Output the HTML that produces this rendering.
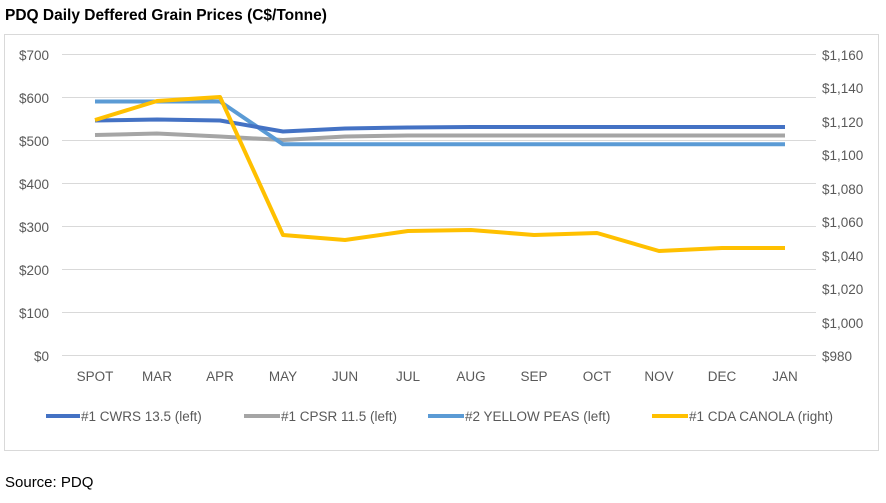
<!DOCTYPE html>
<html><head><meta charset="utf-8"><style>
body{margin:0;background:#fff;width:886px;height:498px;overflow:hidden;font-family:"Liberation Sans",sans-serif}
</style></head><body>
<svg width="886" height="498" xmlns="http://www.w3.org/2000/svg" font-family="Liberation Sans, sans-serif">
<text x="5" y="20" font-size="15.5" font-weight="bold" fill="#000">PDQ Daily Deffered Grain Prices (C$/Tonne)</text>
<rect x="4.5" y="34.5" width="874" height="416" fill="#fff" stroke="#d9d9d9"/>
<g stroke="#d9d9d9" stroke-width="1">
<line x1="62" x2="816" y1="54.5" y2="54.5"/><line x1="62" x2="816" y1="97.5" y2="97.5"/>
<line x1="62" x2="816" y1="140.5" y2="140.5"/><line x1="62" x2="816" y1="183.5" y2="183.5"/>
<line x1="62" x2="816" y1="226.5" y2="226.5"/><line x1="62" x2="816" y1="269.5" y2="269.5"/>
<line x1="62" x2="816" y1="312.5" y2="312.5"/><line x1="62" x2="816" y1="355.5" y2="355.5"/>
</g>
<g font-size="13.5" fill="#595959" text-anchor="end">
<text x="49" y="60">$700</text><text x="49" y="103">$600</text><text x="49" y="146">$500</text><text x="49" y="189">$400</text>
<text x="49" y="232">$300</text><text x="49" y="275">$200</text><text x="49" y="318">$100</text><text x="49" y="361">$0</text>
</g>
<g font-size="13.5" fill="#595959" text-anchor="start">
<text x="822" y="60">$1,160</text><text x="822" y="93">$1,140</text><text x="822" y="127">$1,120</text><text x="822" y="160">$1,100</text>
<text x="822" y="194">$1,080</text><text x="822" y="227">$1,060</text><text x="822" y="261">$1,040</text><text x="822" y="294">$1,020</text>
<text x="822" y="328">$1,000</text><text x="822" y="361">$980</text>
</g>
<g font-size="13.5" fill="#595959" text-anchor="middle">
<text x="95" y="381">SPOT</text><text x="157" y="381">MAR</text><text x="220" y="381">APR</text><text x="283" y="381">MAY</text>
<text x="345" y="381">JUN</text><text x="408" y="381">JUL</text><text x="471" y="381">AUG</text><text x="534" y="381">SEP</text>
<text x="597" y="381">OCT</text><text x="659" y="381">NOV</text><text x="722" y="381">DEC</text><text x="785" y="381">JAN</text>
</g>
<g fill="none" stroke-width="4" stroke-linejoin="round">
<polyline stroke="#a5a5a5" points="95,135 157,133.5 220,136.5 283,140 345,136.5 408,135.5 471,135.5 534,135.5 597,135.5 659,135.5 722,135.5 785,135.5"/>
<polyline stroke="#5b9bd5" points="95,101.5 157,101.5 220,101.5 283,144.3 345,144.3 408,144.3 471,144.3 534,144.3 597,144.3 659,144.3 722,144.3 785,144.3"/>
<polyline stroke="#4472c4" points="95,120.5 157,119.5 220,120.5 283,131.5 345,128.5 408,127.5 471,127 534,127 597,127 659,127 722,127 785,127"/>
<polyline stroke="#ffc000" points="95,120 157,101 220,97 283,235 345,240 408,231 471,230 534,235 597,233 659,251 722,248 785,248"/>
</g>
<g font-size="13.5" fill="#595959">
<line x1="46" x2="80" y1="416" y2="416" stroke="#4472c4" stroke-width="4"/><text x="81" y="421">#1 CWRS 13.5 (left)</text>
<line x1="244" x2="280" y1="416" y2="416" stroke="#a5a5a5" stroke-width="4"/><text x="281" y="421">#1 CPSR 11.5 (left)</text>
<line x1="428" x2="464" y1="416" y2="416" stroke="#5b9bd5" stroke-width="4"/><text x="465" y="421">#2 YELLOW PEAS (left)</text>
<line x1="652" x2="688" y1="416" y2="416" stroke="#ffc000" stroke-width="4"/><text x="689" y="421">#1 CDA CANOLA (right)</text>
</g>
<text x="5" y="487" font-size="15" fill="#000">Source: PDQ</text>
</svg>
</body></html>
